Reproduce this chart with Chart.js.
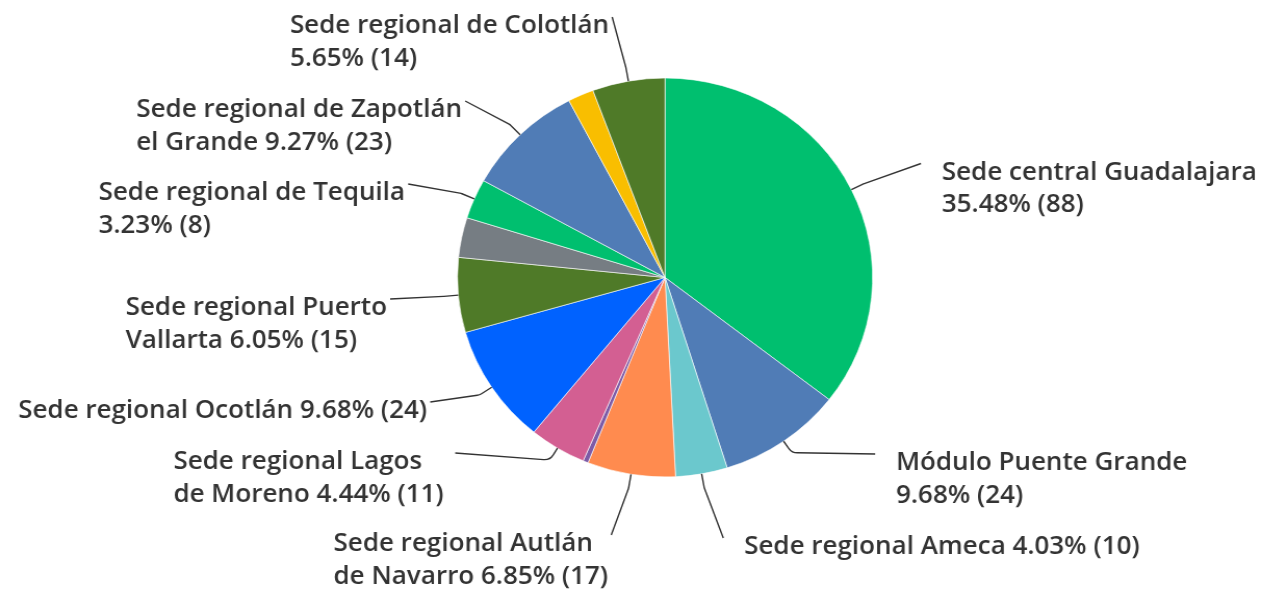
<!DOCTYPE html>
<html><head><meta charset="utf-8">
<script src="https://cdn.jsdelivr.net/npm/chart.js@4.4.1/dist/chart.umd.min.js"></script>
<style>
html,body{margin:0;padding:0;background:#fff;overflow:hidden}
#wrap{position:absolute;left:0;top:0;width:1214px;height:589px;transform:scaleX(1.0404);transform-origin:0 0}
</style></head><body>
<div id="wrap"><canvas id="c"></canvas></div>
<script>
// ---- data ----
const categories = [
  "Sede central Guadalajara",
  "Módulo Puente Grande",
  "Sede regional Ameca",
  "Sede regional Autlán de Navarro",
  "Otra sede 1",
  "Sede regional Lagos de Moreno",
  "Sede regional Ocotlán",
  "Sede regional Puerto Vallarta",
  "Otra sede 2",
  "Sede regional de Tequila",
  "Sede regional de Zapotlán el Grande",
  "Otra sede 3",
  "Sede regional de Colotlán"
];
const counts = [88, 24, 10, 17, 1, 11, 24, 15, 8, 8, 23, 5, 14];
const colors = ["#00BF6F","#507CB6","#6BC8CD","#FF8B4F","#7D5BA6","#D35F92","#0062FF","#4F7A28","#767D83","#00BF6F","#507CB6","#F9BE00","#4F7A28"];
// number of words on the first label line (0 = single line)
const labelBreaks = [3, 3, 0, 3, 0, 3, 0, 3, 0, 4, 4, 0, 4];
// leader end offsets from pie centre [dx, dy, side, gap]; null = no label
const labelLayout = [
  [246, -114, 'R'],
  [202, 176.5, 'R'],
  [56, 260.5, 'R'],
  [-51.7, 257.5, 'L'],
  null,
  [-201.7, 175.5, 'L', 11],
  [-225.7, 124.5, 'L'],
  [-264.2, 21.5, 'L'],
  null,
  [-246.9, -93.5, 'L'],
  [-192.1, -176.5, 'L'],
  null,
  [-50.8, -260.5, 'L']
];

const total = counts.reduce((a, b) => a + b, 0);
const FONT = '600 25px "Open Sans"';
const TEXT_COLOR = '#333333';

const outsideLabels = {
  id: 'outsideLabels',
  afterDatasetsDraw(chart) {
    const ctx = chart.ctx;
    const meta = chart.getDatasetMeta(0);
    ctx.save();
    meta.data.forEach((arc, i) => {
      const lay = labelLayout[i];
      if (!lay) return;
      const p = arc.getProps(['x', 'y', 'startAngle', 'endAngle', 'outerRadius'], true);
      const mid = (p.startAngle + p.endAngle) / 2;
      const dx = Math.cos(mid), dy = Math.sin(mid);
      const x0 = p.x + dx * p.outerRadius, y0 = p.y + dy * p.outerRadius;
      const x1 = x0 + dx * 14, y1 = y0 + dy * 14;
      const x2 = p.x + lay[0], y2 = p.y + lay[1];
      ctx.beginPath();
      ctx.moveTo(x0, y0);
      ctx.arcTo(x1, y1, x2, y2, 10);
      ctx.lineTo(x2, y2);
      ctx.strokeStyle = '#333';
      ctx.lineWidth = 1.4;
      ctx.stroke();

      const pct = (counts[i] / total * 100).toFixed(2);
      const full = `${categories[i]} ${pct}% (${counts[i]})`;
      const words = full.split(' ');
      const nb = labelBreaks[i];
      const lines = nb > 0 ? [words.slice(0, nb).join(' '), words.slice(nb).join(' ')] : [full];
      ctx.font = FONT;
      ctx.fillStyle = TEXT_COLOR;
      ctx.textBaseline = 'middle';
      ctx.textAlign = 'left';
      const w = Math.max(...lines.map(l => ctx.measureText(l).width));
      const gap = lay[3] !== undefined ? lay[3] : 3;
      const left = lay[2] === 'L' ? x2 - gap - w : x2 + 20;
      lines.forEach((l, k) => ctx.fillText(l, left, y2 + 9 + k * 32.5));
    });
    ctx.restore();
  }
};

new Chart(document.getElementById('c'), {
  type: 'pie',
  data: {
    labels: categories,
    datasets: [{
      data: counts,
      backgroundColor: colors,
      borderColor: '#ffffff',
      borderWidth: 0.6,
      radius: 199.5
    }]
  },
  options: {
    responsive: true,
    maintainAspectRatio: false,
    animation: false,
    layout: { padding: { top: 78, bottom: 112, left: 439.7, right: 375.3 } },
    plugins: { legend: { display: false }, tooltip: { enabled: false } }
  },
  plugins: [outsideLabels]
});
</script>
</body></html>
